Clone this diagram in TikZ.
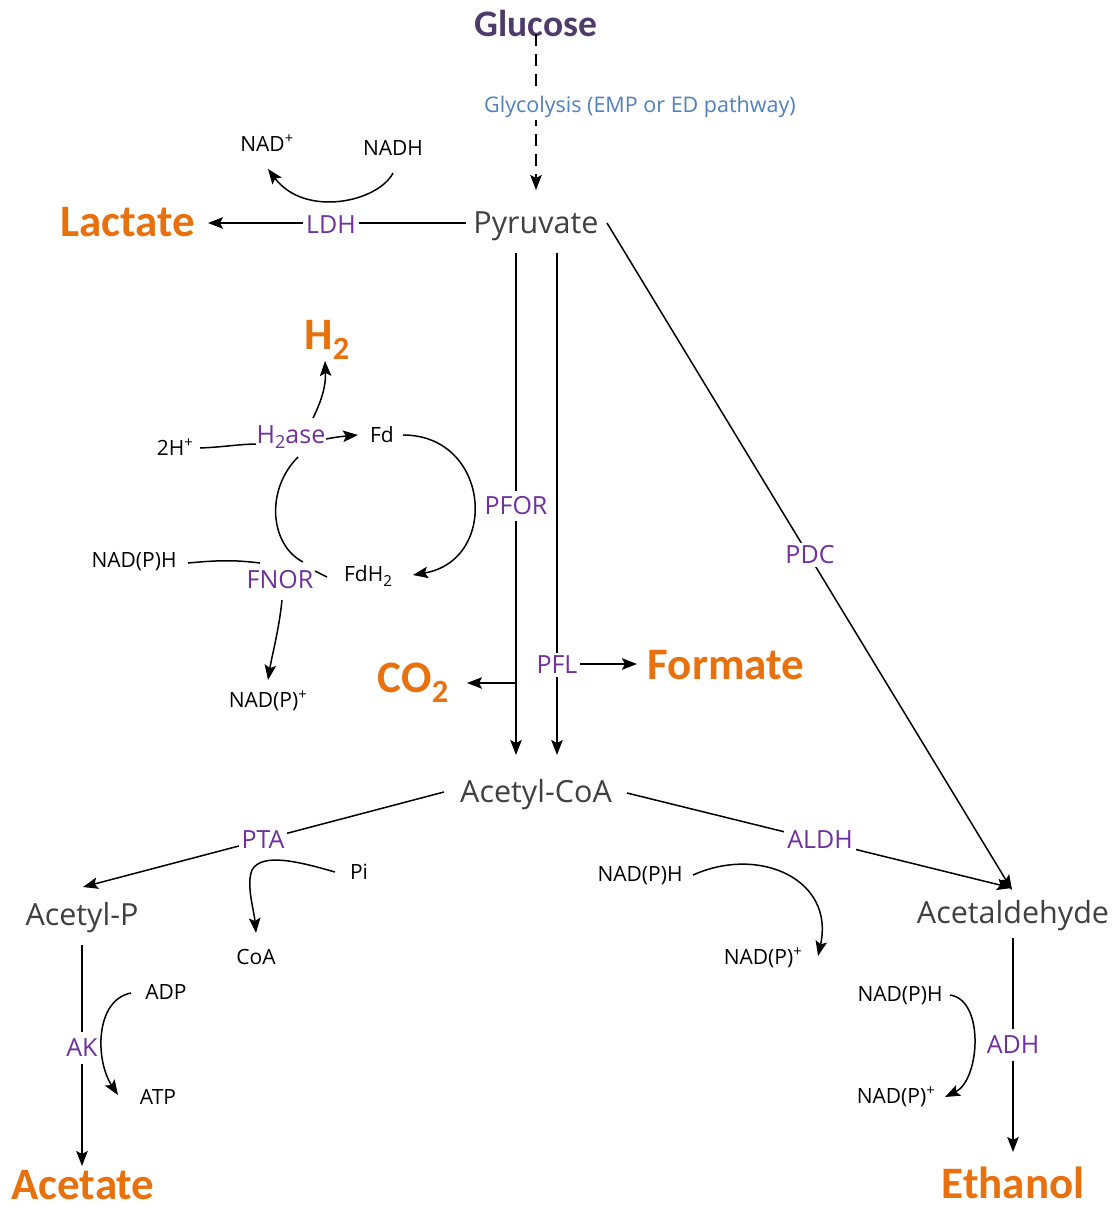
\documentclass[tikz,border=0pt]{standalone}
\usepackage{fontspec}
\setmainfont{Open Sans}
\newfontfamily\calfont{Carlito}
\usetikzlibrary{arrows.meta}
\definecolor{orng}{HTML}{E8710E}
\definecolor{purp}{HTML}{7030A0}
\definecolor{mgrey}{HTML}{404040}
\definecolor{gluc}{HTML}{4F3B6B}
\definecolor{glyb}{HTML}{4F81BD}
\newcommand{\dn}[1]{\raisebox{-0.22em}{\scalebox{0.72}{#1}}}
\tikzset{
  met/.style={font=\fontsize{30.5}{33}\selectfont, text=mgrey, inner sep=0pt},
  prod/.style={font=\calfont\bfseries\fontsize{45}{48}\selectfont, text=orng, inner sep=0pt},
  glc/.style={font=\calfont\bfseries\fontsize{37.5}{40}\selectfont, text=gluc, inner sep=0pt},
  enz/.style={font=\fontsize{25}{28}\selectfont, text=purp, fill=white, inner sep=3pt},
  cof/.style={font=\fontsize{21}{24}\selectfont, inner sep=0pt},
  ln/.style={line width=1.5pt},
  arr/.style={line width=1.5pt, -{Stealth[length=15pt,width=11.5pt,inset=3pt]}},
}
\begin{document}
\begin{tikzpicture}[x=1pt,y=-1pt]
\useasboundingbox (0,0) rectangle (1114,1207);
% metabolites
\node[glc] (glu) at (536,23) {Glucose};
\node[met] (pyr) at (536,226) {Pyruvate};
\node[prod] (lac) at (128,222) {Lactate};
\node[cof] (nadh1) at (393,148) {NADH};
\node[cof] (nad1) at (267,143) {NAD\textsuperscript{+}};
\node[prod] (h2) at (327,340) {H\dn{2}};
\node[cof] (twoh) at (175,447) {2H\textsuperscript{+}};
\node[cof] (fd) at (382,435) {Fd};
\node[cof] (fdh2) at (368,576) {FdH\dn{2}};
\node[cof] (nph1) at (134,562) {NAD(P)H};
\node[cof] (np1) at (268,701) {NAD(P)\textsuperscript{+}};
\node[prod] (co2) at (413,683) {CO\dn{2}};
\node[prod] (form) at (726,665) {Formate};
\node[met] (acoa) at (536,795) {Acetyl-CoA};
\node[met] (acp) at (82,918) {Acetyl-P};
\node[met] (acald) at (1013,916) {Acetaldehyde};
\node[cof] (pi) at (359,872) {Pi};
\node[cof] (coa) at (256,957) {CoA};
\node[cof] (nph2) at (640,876) {NAD(P)H};
\node[cof] (np2) at (763,958) {NAD(P)\textsuperscript{+}};
\node[cof] (adp) at (166,992) {ADP};
\node[cof] (atp) at (158,1097) {ATP};
\node[prod] (acet) at (83,1185) {Acetate};
\node[cof] (nph3) at (900,996) {NAD(P)H};
\node[cof] (np3) at (896,1097) {NAD(P)\textsuperscript{+}};
\node[prod] (eth) at (1013,1183) {Ethanol};

% main connectors
\draw[arr, dash pattern=on 12pt off 8pt] ([yshift=2pt]glu.south) -- (536,190);
\draw[arr] (466,223) -- (208,223);
\draw[arr] (516,253) -- (516,755);
\draw[arr] (557,253) -- (557,755);
\draw[arr] (516,683) -- (467,683);
\draw[arr] (579,664) -- (637,664);
\draw[arr] (607,223) -- (1012,890);
\draw[arr] (444,792) -- (83,887);
\draw[arr] (627,793) -- (1012,888);
\draw[arr] (82,945) -- (82,1166);
\draw[arr] (1013,938) -- (1013,1152);

% cofactor curves
\draw[arr] (393,173) .. controls (378,202) and (305,218) .. (268,169);
\draw[ln] (200,448) .. controls (225,447) and (240,444) .. (258,444);
\draw[arr] (313,418) .. controls (322,400) and (326,385) .. (325,361);
\draw[arr] (326,439) .. controls (336,437) and (346,436) .. (358,435);
\draw[arr] (403,435) .. controls (490,435) and (500,560) .. (413,575);
\draw[ln] (298,457) .. controls (265,490) and (270,545) .. (303,562);
\draw[ln] (315,571) -- (327,577);
\draw[ln] (188,563) .. controls (220,560) and (235,560) .. (260,563);
\draw[arr] (282,600) .. controls (279,630) and (272,655) .. (268,680);
\draw[arr] (335,872) .. controls (300,862) and (262,852) .. (252,870) .. controls (246,885) and (254,910) .. (256,933);
\draw[arr] (693,875) .. controls (760,845) and (835,880) .. (818,956);
\draw[arr] (131,993) .. controls (95,1000) and (95,1060) .. (118,1095);
\draw[arr] (950,995) .. controls (985,1000) and (980,1080) .. (945,1097);

% enzymes / labels
\node[font=\fontsize{21.5}{24}\selectfont, text=glyb, fill=white, inner sep=2pt] (glyc) at (640,107) {Glycolysis (EMP or ED pathway)};
\node[enz] (ldh) at (331,225) {LDH};
\node[enz, inner sep=1pt] (h2ase) at (291,437) {H\dn{2}ase};
\node[enz, inner sep=1pt] (fnor) at (280,580) {FNOR};
\node[enz, inner xsep=1pt, inner ysep=6pt] (pfor) at (516,506) {PFOR};
\node[enz] (pfl) at (557,665) {PFL};
\node[enz] (pdc) at (810,555) {PDC};
\node[enz] (pta) at (263,840) {PTA};
\node[enz] (aldh) at (820,840) {ALDH};
\node[enz, inner xsep=1pt, inner ysep=7pt] (ak) at (82,1048) {AK};
\node[enz, inner xsep=1pt, inner ysep=7pt] (adh) at (1013,1045) {ADH};
\end{tikzpicture}
\end{document}
